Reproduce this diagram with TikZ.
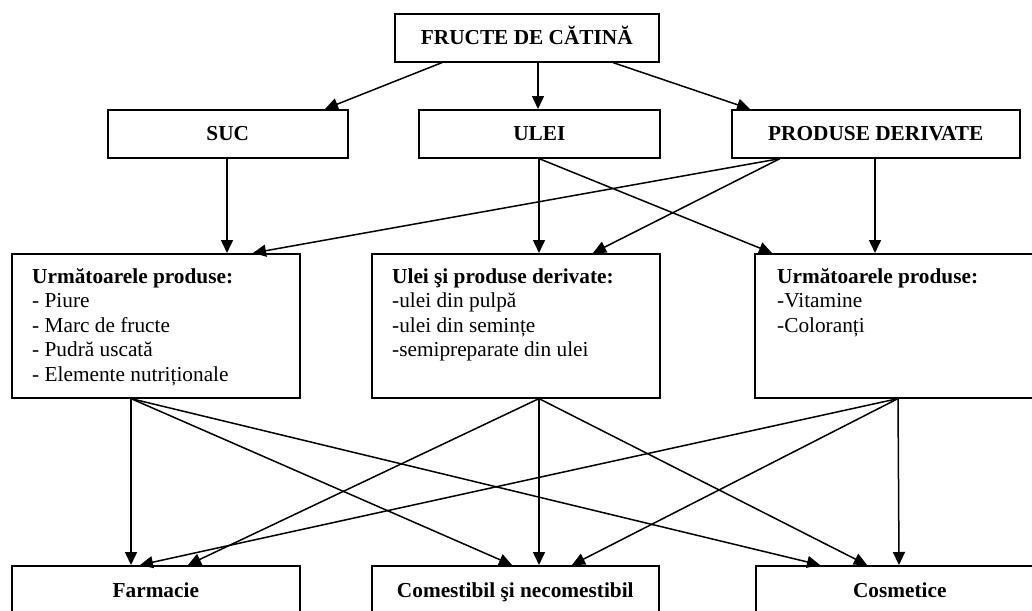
\documentclass[tikz,border=0pt]{standalone}
\usepackage{fontspec}
\setmainfont{Liberation Serif}
\usetikzlibrary{arrows.meta}
\begin{document}
\begin{tikzpicture}[x=1pt,y=-1pt,
  box/.style={draw, line width=1.6pt, rectangle, anchor=north west, inner sep=0pt},
  lbl/.style={font=\fontsize{21.3}{24.5}\selectfont\bfseries, text height=14pt, text depth=0pt},
  body/.style={font=\fontsize{21.3}{24.5}\selectfont, inner sep=0pt, anchor=base west},
  arr/.style={line width=1.5pt, -{Triangle[length=13pt,width=12pt]}},
]
\useasboundingbox (0,0) rectangle (1032,610);
\clip (0,0) rectangle (1032,610);
\fill[white] (0,0) rectangle (1032,610);

% top level
\node[box, lbl, minimum width=264pt, minimum height=48pt] (top) at (394,13) {FRUCTE DE CĂTINĂ};
% second level
\node[box, lbl, minimum width=240pt, minimum height=48pt] (suc) at (107,109) {SUC};
\node[box, lbl, minimum width=241pt, minimum height=48pt] (ulei) at (418,109) {ULEI};
\node[box, lbl, minimum width=288pt, minimum height=48pt] (prod) at (731,109) {PRODUSE DERIVATE};
% third level
\node[box, minimum width=288pt, minimum height=144pt] (ml) at (11,253) {};
\node[box, minimum width=288pt, minimum height=144pt] (mc) at (371,253) {};
\node[box, minimum width=289pt, minimum height=144pt] (mr) at (754,253) {};
\node[body] (mltxt) at (32,283) {\vtop{\hbox{\textbf{Următoarele produse:}}\hbox{- Piure}\hbox{- Marc de fructe}\hbox{- Pudră uscată}\hbox{- Elemente nutriționale}}};
\node[body] (mctxt) at (392,283) {\vtop{\hbox{\textbf{Ulei şi produse derivate:}}\hbox{-ulei din pulpă}\hbox{-ulei din semințe}\hbox{-semipreparate din ulei}}};
\node[body] (mrtxt) at (777,283) {\vtop{\hbox{\textbf{Următoarele produse:}}\hbox{-Vitamine}\hbox{-Coloranți}}};
% bottom level
\node[box, lbl, minimum width=288pt, minimum height=50pt] (bf) at (11,565) {Farmacie};
\node[box, lbl, minimum width=287pt, minimum height=50pt] (bc) at (371,565) {Comestibil şi necomestibil};
\node[box, lbl, minimum width=288pt, minimum height=50pt] (bk) at (755,565) {Cosmetice};

% top connectors
\draw[arr] ([xshift=48pt]top.south west) -- ([xshift=218pt]suc.north west);
\draw[arr] ([xshift=144pt]top.south west) -- ([xshift=120pt]ulei.north west);
\draw[arr] ([xshift=219pt]top.south west) -- ([xshift=19pt]prod.north west);
% second to third
\draw[arr] ([xshift=120pt]suc.south west) -- ([xshift=216pt]ml.north west);
\draw[arr] ([xshift=49pt]prod.south west) -- ([xshift=242pt]ml.north west);
\draw[arr] ([xshift=121pt]ulei.south west) -- ([xshift=168pt]mc.north west);
\draw[arr] ([xshift=49pt]prod.south west) -- ([xshift=222pt]mc.north west);
\draw[arr] ([xshift=121pt]ulei.south west) -- ([xshift=18pt]mr.north west);
\draw[arr] ([xshift=144pt]prod.south west) -- ([xshift=121pt]mr.north west);
% third to bottom
\draw[arr] ([xshift=120pt]ml.south west) -- ([xshift=120pt]bf.north west);
\draw[arr] ([xshift=120pt]ml.south west) -- ([xshift=141pt]bc.north west);
\draw[arr] ([xshift=120pt]ml.south west) -- ([xshift=65pt]bk.north west);
\draw[arr] ([xshift=168pt]mc.south west) -- ([xshift=177pt]bf.north west);
\draw[arr] ([xshift=168pt]mc.south west) -- ([xshift=168pt]bc.north west);
\draw[arr] ([xshift=168pt]mc.south west) -- ([xshift=112pt]bk.north west);
\draw[arr] ([xshift=144pt]mr.south west) -- ([xshift=129pt]bf.north west);
\draw[arr] ([xshift=144pt]mr.south west) -- ([xshift=201pt]bc.north west);
\draw[arr] ([xshift=144pt]mr.south west) -- ([xshift=144pt]bk.north west);
\end{tikzpicture}
\end{document}
